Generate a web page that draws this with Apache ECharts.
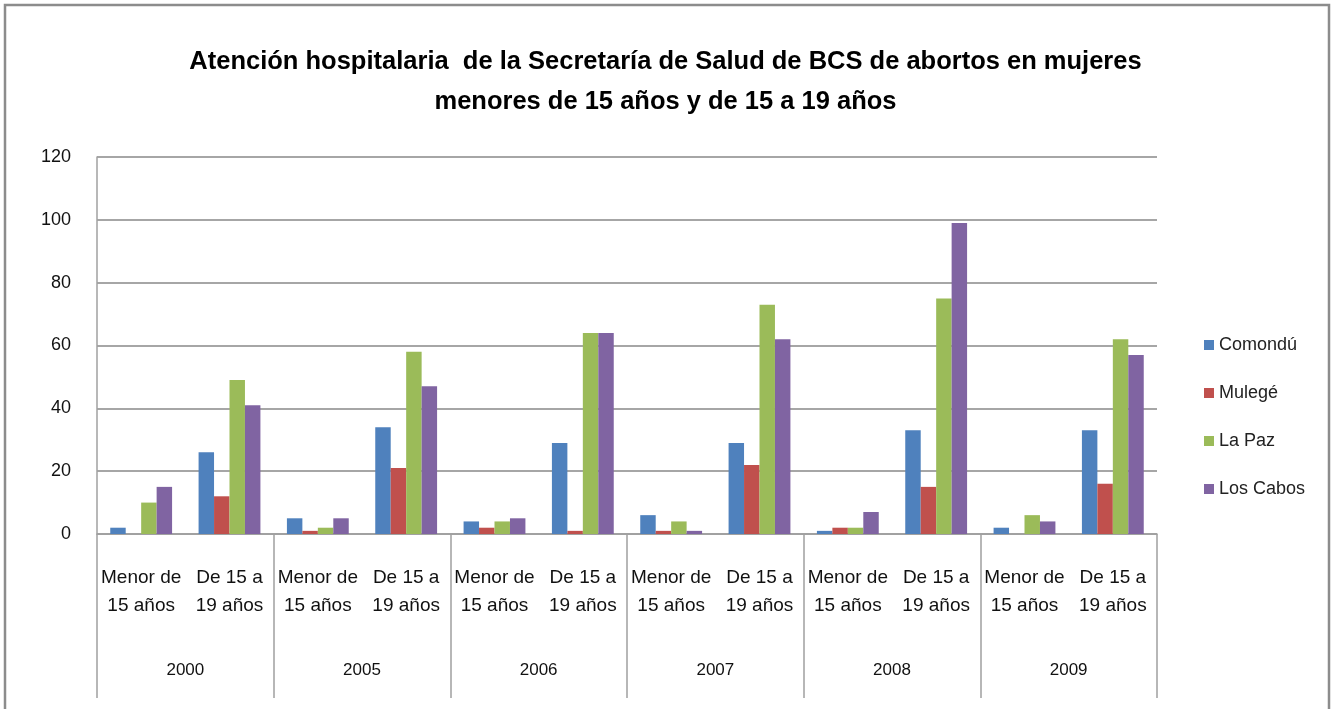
<!DOCTYPE html>
<html>
<head>
<meta charset="utf-8">
<script src="https://cdn.jsdelivr.net/npm/echarts@6/dist/echarts.min.js"></script>
<style>html,body{margin:0;padding:0;background:#fff}#c{width:1331px;height:709px}</style>
</head>
<body>
<div id="c"></div>
<script>
const titleText = 'Atención hospitalaria  de la Secretaría de Salud de BCS de abortos en mujeres\nmenores de 15 años y de 15 a 19 años';
const years = ['2000', '2005', '2006', '2007', '2008', '2009'];
const ageGroups = ['Menor de\n15 años', 'De 15 a\n19 años'];
const categories = [];
years.forEach(function () { ageGroups.forEach(function (g) { categories.push(g); }); });
const seriesNames = ['Comondú', 'Mulegé', 'La Paz', 'Los Cabos'];
const comondu  = [2, 26, 5, 34, 4, 29, 6, 29, 1, 33, 2, 33];
const mulege   = [0, 12, 1, 21, 2, 1, 1, 22, 2, 15, 0, 16];
const lapaz    = [10, 49, 2, 58, 4, 64, 4, 73, 2, 75, 6, 62];
const loscabos = [15, 41, 5, 47, 5, 64, 1, 62, 7, 99, 4, 57];
const yTicks = [0, 20, 40, 60, 80, 100, 120];
const colors = ['#4F81BD', '#C0504D', '#9BBB59', '#8064A2'];

const font = 'Liberation Sans';
const chart = echarts.init(document.getElementById('c'), null, {renderer: 'canvas'});
const seriesData = [comondu, mulege, lapaz, loscabos];
chart.setOption({
  animation: false,
  color: colors,
  graphic: [{
    type: 'polyline', shape: {points: [[5, 709], [5, 5], [1329, 5], [1329, 709]]},
    style: {fill: 'none', stroke: '#8c8c8c', lineWidth: 2.5}, silent: true
  }],
  title: {
    text: titleText, left: 'center', top: 37,
    textStyle: {fontFamily: font, fontSize: 25.5, fontWeight: 'bold', color: '#000', lineHeight: 40}
  },
  legend: {
    orient: 'vertical', left: 1199, top: 330, itemGap: 28, itemWidth: 10, itemHeight: 10,
    icon: 'rect', data: seriesNames,
    textStyle: {fontFamily: font, fontSize: 18, color: '#222', lineHeight: 20}
  },
  grid: {left: 97, right: 174, top: 157, bottom: 175, containLabel: false},
  xAxis: [{
    type: 'category', data: categories, position: 'bottom',
    axisLine: {show: true, lineStyle: {color: '#a0a0a0', width: 1.5}},
    axisTick: {show: false},
    axisLabel: {interval: 0, margin: 30, fontFamily: font, fontSize: 19, lineHeight: 28, color: '#111', align: 'center'}
  }, {
    type: 'category', data: years, position: 'bottom',
    axisLine: {show: false},
    axisTick: {show: true, length: 164, lineStyle: {color: '#a0a0a0', width: 1.5}},
    axisLabel: {interval: 0, margin: 128, fontFamily: font, fontSize: 17, color: '#111'}
  }],
  yAxis: {
    type: 'value', min: 0, max: 120, interval: 20,
    axisLine: {show: true, lineStyle: {color: '#a0a0a0', width: 1.5}},
    axisTick: {show: false},
    axisLabel: {margin: 26, fontFamily: font, fontSize: 18, color: '#111',
      formatter: function (v) { return yTicks.indexOf(v) >= 0 ? String(v) : ''; }},
    splitLine: {show: true, lineStyle: {color: '#a6a6a6', width: 2}}
  },
  series: seriesNames.map(function (n, i) {
    return {
      name: n, type: 'bar', xAxisIndex: 0, data: seriesData[i],
      barGap: '0%', barCategoryGap: '30%',
      itemStyle: {color: colors[i]}
    };
  })
});
</script>
</body>
</html>
